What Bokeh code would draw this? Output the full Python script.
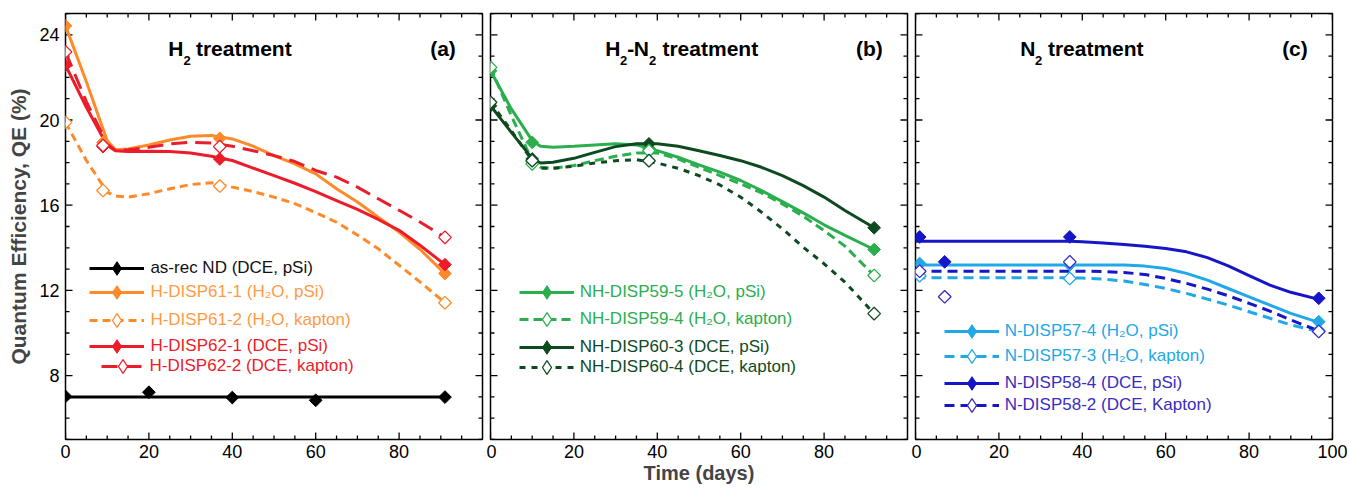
import math
from bokeh.plotting import figure
from bokeh.models import Range1d, LinearAxis, FixedTicker, Legend, LegendItem, Label
from bokeh.layouts import row
from bokeh.embed import file_html
from bokeh.resources import INLINE

FONT = "Liberation Sans"

# ---------------- data ----------------
# Panel (a) H2 treatment -- measured points
a_asrec_x = [0, 20, 40, 60, 91]
a_asrec_y = [7.02, 7.22, 6.97, 6.84, 6.99]
a_pts_x = [0, 9, 37, 91]
a_61_1_y = [24.42, 18.95, 19.14, 12.79]
a_61_2_y = [19.89, 16.69, 16.90, 11.42]
a_62_1_y = [22.57, 18.75, 18.17, 13.21]
a_62_2_y = [23.20, 18.80, 18.75, 14.49]
# Panel (a) fitted curves
a_asrec_fit_x = [0, 91]
a_asrec_fit_y = [7.0, 7.0]
a_fit_x = [0, 5, 10, 12, 15, 20, 25, 30, 35, 40, 45, 50, 55, 60, 65, 70, 75, 80, 85, 91]
a_61_1_fit = [24.42, 21.80, 19.03, 18.60, 18.64, 18.83, 19.06, 19.24, 19.27, 19.11,
              18.77, 18.33, 17.94, 17.47, 16.77, 16.15, 15.44, 14.74, 13.93, 12.79]
a_61_2_fit = [19.89, 18.10, 16.61, 16.43, 16.38, 16.54, 16.77, 16.97, 17.05, 16.85,
              16.64, 16.38, 16.07, 15.65, 15.20, 14.60, 13.95, 13.18, 12.40, 11.42]
a_62_1_fit = [22.57, 20.60, 18.80, 18.56, 18.52, 18.53, 18.52, 18.45, 18.30, 18.10,
              17.74, 17.39, 17.03, 16.64, 16.22, 15.80, 15.33, 14.82, 14.12, 13.21]
a_62_2_fit = [23.20, 20.86, 18.88, 18.56, 18.60, 18.72, 18.88, 18.95, 18.92, 18.77,
              18.56, 18.33, 18.05, 17.63, 17.32, 16.85, 16.30, 15.76, 15.21, 14.49]

# Panel (b) H2-N2 treatment
b_pts_x = [0, 10, 38, 92]
b_59_5_y = [22.31, 18.95, 18.67, 13.92]
b_59_4_y = [22.47, 17.94, 18.56, 12.70]
b_60_3_y = [20.67, 18.17, 18.88, 14.94]
b_60_4_y = [20.83, 18.09, 18.09, 10.91]
b_fit_x = [0, 5, 10, 12, 15, 20, 25, 30, 35, 40, 45, 50, 55, 60, 65, 70, 75, 80, 85, 92]
b_59_5_fit = [22.31, 20.52, 19.03, 18.77, 18.72, 18.77, 18.83, 18.88, 18.83, 18.56,
              18.25, 17.89, 17.55, 17.16, 16.69, 16.17, 15.64, 15.08, 14.58, 13.92]
b_59_4_fit = [22.47, 20.20, 18.09, 17.78, 17.73, 17.86, 18.09, 18.30, 18.45, 18.45,
              18.17, 17.78, 17.39, 17.00, 16.58, 16.06, 15.48, 14.81, 14.08, 12.70]
b_60_3_fit = [20.67, 19.42, 18.20, 17.98, 18.02, 18.20, 18.48, 18.75, 18.88, 18.88,
              18.77, 18.56, 18.33, 18.09, 17.78, 17.39, 16.92, 16.38, 15.75, 14.94]
b_60_4_fit = [20.83, 19.50, 18.09, 17.73, 17.73, 17.83, 17.98, 18.09, 18.14, 17.98,
              17.73, 17.39, 16.95, 16.38, 15.67, 14.89, 14.03, 13.25, 12.39, 10.91]

# Panel (c) N2 treatment
c_57_x = [1, 37, 96.7]
c_57_4_y = [13.26, 13.20, 10.53]
c_57_3_y = [12.69, 12.56, 10.10]
c_58_x = [1, 7, 37, 96.7]
c_58_4_y = [14.51, 13.34, 14.51, 11.63]
c_58_2_y = [12.90, 11.70, 13.34, 10.07]
c_fit_x = [0, 37, 40, 45, 50, 55, 60, 65, 70, 75, 80, 85, 90, 96.7]
c_58_4_fit = [14.31, 14.31, 14.28, 14.23, 14.15, 14.07, 13.97, 13.81, 13.54, 13.15, 12.69, 12.25, 11.91, 11.58]
c_57_4_fit = [13.19, 13.19, 13.19, 13.19, 13.19, 13.14, 13.03, 12.80, 12.48, 12.09, 11.70, 11.31, 10.92, 10.50]
c_57_3_fit = [12.59, 12.59, 12.58, 12.53, 12.44, 12.28, 12.09, 11.86, 11.59, 11.31, 11.00, 10.69, 10.38, 10.07]
c_58_2_fit = [12.90, 12.90, 12.90, 12.89, 12.84, 12.75, 12.56, 12.33, 12.06, 11.75, 11.39, 11.03, 10.61, 10.10]

# axes ticks
X_LO, X_HI = 0, 100
Y_LO, Y_HI = 5, 25
x_major_ab = [0, 20, 40, 60, 80]
x_major_c = [0, 20, 40, 60, 80, 100]
x_minor = [5, 10, 15, 25, 30, 35, 45, 50, 55, 65, 70, 75, 85, 90, 95]
y_major = [8, 12, 16, 20, 24]
y_minor = [5, 6, 7, 9, 10, 11, 13, 14, 15, 17, 18, 19, 21, 22, 23, 25]

# colours
BLACK = "#000000"
ORANGE = "#FF8A2A"
ORANGE_T = "#FF9A45"
RED = "#EC1C2A"
GREEN = "#2BAE4E"
DKGREEN = "#0E4A1F"
LTBLUE = "#22A8E6"
BLUE = "#1616C8"
PURPLE = "#3A2CC0"

# ---------------- layout ----------------
FW, FH = 417, 426
SX, SY = FW / 422.0, FH / 427.0
MAJ_LEN, MIN_LEN = 7, 4


def style_axis(ax):
    ax.axis_line_color = None
    ax.major_tick_in = 0
    ax.major_tick_out = 0
    ax.minor_tick_in = 0
    ax.minor_tick_out = 0
    ax.major_tick_line_color = None
    ax.minor_tick_line_color = None
    ax.major_label_text_font = FONT
    ax.major_label_text_font_size = "18px"
    ax.major_label_text_color = "black"
    ax.major_label_standoff = 5


def draw_ticks(p, xmajor):
    # inward ticks on all four sides, at the tick values (short dash markers)
    for ticks, ln in ((xmajor, MAJ_LEN), (x_minor, MIN_LEN)):
        d = ln / FH * (Y_HI - Y_LO) / 2.0
        for yv in (Y_LO + d, Y_HI - d):
            p.scatter(x=ticks, y=[yv] * len(ticks), marker="dash", angle=math.pi / 2,
                      size=ln, line_color="black", line_width=1.3)
    for ticks, ln in ((y_major, MAJ_LEN), (y_minor, MIN_LEN)):
        d = ln / FW * (X_HI - X_LO) / 2.0
        for xv in (X_LO + d, X_HI - d):
            p.scatter(x=[xv] * len(ticks), y=ticks, marker="dash", angle=0,
                      size=ln, line_color="black", line_width=1.3)


def make_fig(left, right, xmajor, ylabels, xtitle=None):
    p = figure(frame_width=FW, frame_height=FH,
               x_range=Range1d(X_LO, X_HI), y_range=Range1d(Y_LO, Y_HI),
               output_backend="svg", toolbar_location=None,
               x_axis_location=None, y_axis_location=None,
               min_border_left=left, min_border_right=right,
               min_border_top=13, min_border_bottom=10)
    p.outline_line_color = "black"
    p.outline_line_width = 1.5
    p.background_fill_color = "white"
    p.border_fill_color = "white"
    for g in p.xgrid + p.ygrid:
        g.visible = False
    bottom = LinearAxis(ticker=FixedTicker(ticks=xmajor, minor_ticks=x_minor))
    style_axis(bottom)
    if xtitle:
        bottom.axis_label = xtitle
        bottom.axis_label_text_font = FONT
        bottom.axis_label_text_font_size = "20px"
        bottom.axis_label_text_font_style = "bold"
        bottom.axis_label_standoff = 1
    p.add_layout(bottom, "below")
    if ylabels:
        leftax = LinearAxis(ticker=FixedTicker(ticks=y_major, minor_ticks=y_minor))
        style_axis(leftax)
        leftax.major_label_standoff = 6
        leftax.axis_label = "Quantum Efficiency, QE (%)"
        leftax.axis_label_text_font = FONT
        leftax.axis_label_text_font_size = "21px"
        leftax.axis_label_text_font_style = "bold"
        leftax.axis_label_standoff = 6
        p.add_layout(leftax, "left")
    draw_ticks(p, xmajor)
    return p


def pts(p, x, y, color, filled, edge=None):
    return p.scatter(x, y, marker="square", angle=math.pi / 4, size=9,
                     fill_color=color if filled else "white",
                     line_color=edge or color, line_width=1.0 if filled else 1.3)


def key(p, x, y, color, filled, edge=None):
    # hidden copy of the points, used only to draw a diamond in the legend key
    return p.scatter(x, y, marker="diamond", size=12, visible=False,
                     fill_color=color if filled else "white",
                     line_color=edge or color, line_width=1.0 if filled else 1.3)


def add_leg(p, rends, label, tcolor, x_ref, yc_ref, gw=55, standoff=6):
    h = 34
    leg = Legend(items=[LegendItem(label=label, renderers=list(rends))],
                 location=(x_ref * SX, FH - yc_ref * SY - h / 2.0),
                 orientation="vertical")
    leg.padding = 0
    leg.margin = 0
    leg.spacing = 0
    leg.border_line_color = None
    leg.background_fill_alpha = 0
    leg.inactive_fill_alpha = 0
    leg.glyph_width = gw
    leg.glyph_height = h
    leg.label_height = h
    leg.label_standoff = standoff
    leg.label_text_font = FONT
    leg.label_text_font_size = "17px"
    leg.label_text_color = tcolor
    p.add_layout(leg)


def add_text(p, text, x_ref, yb_ref, size="21px", align="left"):
    x = x_ref * SX if align == "left" else FW - x_ref * SX
    p.add_layout(Label(x=x, y=FH - yb_ref * SY, x_units="screen", y_units="screen",
                       text=text, text_font=FONT, text_font_size=size,
                       text_font_style="bold", text_color="black",
                       text_baseline="alphabetic", text_align=align))


# ---------------- panel (a) ----------------
pa = make_fig(65, 4, x_major_ab, True)
r_asrec = pa.line(a_asrec_fit_x, a_asrec_fit_y, line_color=BLACK, line_width=3)
r_611 = pa.line(a_fit_x, a_61_1_fit, line_color=ORANGE, line_width=3)
r_612 = pa.line(a_fit_x, a_61_2_fit, line_color=ORANGE, line_width=3, line_dash="8 5")
r_621 = pa.line(a_fit_x, a_62_1_fit, line_color=RED, line_width=3)
r_622 = pa.line(a_fit_x, a_62_2_fit, line_color=RED, line_width=3, line_dash="16 8")
pts(pa, a_asrec_x, a_asrec_y, BLACK, True)
pts(pa, a_pts_x, a_61_2_y, ORANGE, False)
pts(pa, a_pts_x, a_61_1_y, ORANGE, True)
pts(pa, a_pts_x, a_62_1_y, RED, True)
pts(pa, a_pts_x, a_62_2_y, RED, False)

add_leg(pa, [r_asrec, key(pa, a_asrec_x, a_asrec_y, BLACK, True)],
        "as-rec ND (DCE, pSi)", "#111111", 24.7, 255.3)
add_leg(pa, [r_611, key(pa, a_pts_x, a_61_1_y, ORANGE, True)],
        "H-DISP61-1 (H\u2082O, pSi)", ORANGE_T, 24.7, 279.3)
add_leg(pa, [r_612, key(pa, a_pts_x, a_61_2_y, ORANGE, False)],
        "H-DISP61-2 (H\u2082O, kapton)", ORANGE_T, 24.7, 307.7)
add_leg(pa, [r_621, key(pa, a_pts_x, a_62_1_y, RED, True)],
        "H-DISP62-1 (DCE, pSi)", RED, 24.7, 333.3)
add_leg(pa, [r_622, key(pa, a_pts_x, a_62_2_y, RED, False)],
        "H-DISP62-2 (DCE, kapton)", RED, 36.0, 354.3, gw=43)

add_text(pa, "H", 104, 35.3)
add_text(pa, "2", 119.5, 46.7, size="13px")
add_text(pa, "treatment", 132, 35.3)
add_text(pa, "(a)", 27, 35.3, align="right")

# ---------------- panel (b) ----------------
pb = make_fig(4, 4, x_major_ab, False, xtitle="Time (days)")
r_595 = pb.line(b_fit_x, b_59_5_fit, line_color=GREEN, line_width=3)
r_594 = pb.line(b_fit_x, b_59_4_fit, line_color=GREEN, line_width=3, line_dash="9 5")
r_603 = pb.line(b_fit_x, b_60_3_fit, line_color=DKGREEN, line_width=3)
r_604 = pb.line(b_fit_x, b_60_4_fit, line_color=DKGREEN, line_width=3, line_dash="6 6")
pts(pb, b_pts_x, b_59_5_y, GREEN, True)
pts(pb, b_pts_x, b_60_3_y, DKGREEN, True)
pts(pb, b_pts_x, b_59_4_y, GREEN, False)
pts(pb, b_pts_x, b_60_4_y, DKGREEN, False)

add_leg(pb, [r_595, key(pb, b_pts_x, b_59_5_y, GREEN, True)],
        "NH-DISP59-5 (H\u2082O, pSi)", GREEN, 29, 279.3)
add_leg(pb, [r_594, key(pb, b_pts_x, b_59_4_y, GREEN, False)],
        "NH-DISP59-4 (H\u2082O, kapton)", GREEN, 29, 306.7)
add_leg(pb, [r_603, key(pb, b_pts_x, b_60_3_y, DKGREEN, True)],
        "NH-DISP60-3 (DCE, pSi)", DKGREEN, 29, 334.3)
add_leg(pb, [r_604, key(pb, b_pts_x, b_60_4_y, DKGREEN, False)],
        "NH-DISP60-4 (DCE, kapton)", DKGREEN, 29, 355.3)

add_text(pb, "H", 116, 35.3)
add_text(pb, "2", 131, 46.7, size="13px")
add_text(pb, "-", 138.5, 35.3)
add_text(pb, "N", 145, 35.3)
add_text(pb, "2", 160.5, 46.7, size="13px")
add_text(pb, "treatment", 174, 35.3)
add_text(pb, "(b)", 25, 35.3, align="right")

# ---------------- panel (c) ----------------
pc = make_fig(4, 15, x_major_c, False)
r_574 = pc.line(c_fit_x, c_57_4_fit, line_color=LTBLUE, line_width=3)
r_573 = pc.line(c_fit_x, c_57_3_fit, line_color=LTBLUE, line_width=3, line_dash="10 6")
r_584 = pc.line(c_fit_x, c_58_4_fit, line_color=BLUE, line_width=3)
r_582 = pc.line(c_fit_x, c_58_2_fit, line_color=BLUE, line_width=3, line_dash="10 6")
pts(pc, c_57_x, c_57_4_y, LTBLUE, True)
pts(pc, c_58_x, c_58_4_y, BLUE, True)
pts(pc, c_57_x, c_57_3_y, LTBLUE, False)
pts(pc, c_58_x, c_58_2_y, BLUE, False, edge=PURPLE)

add_leg(pc, [r_574, key(pc, c_57_x, c_57_4_y, LTBLUE, True)],
        "N-DISP57-4 (H\u2082O, pSi)", LTBLUE, 29, 318.7)
add_leg(pc, [r_573, key(pc, c_57_x, c_57_3_y, LTBLUE, False)],
        "N-DISP57-3 (H\u2082O, kapton)", LTBLUE, 29, 344.3)
add_leg(pc, [r_584, key(pc, c_58_x, c_58_4_y, BLUE, True)],
        "N-DISP58-4 (DCE, pSi)", PURPLE, 29, 371.0)
add_leg(pc, [r_582, key(pc, c_58_x, c_58_2_y, BLUE, False, edge=PURPLE)],
        "N-DISP58-2 (DCE, Kapton)", PURPLE, 29, 392.7)

add_text(pc, "N", 106, 35.3)
add_text(pc, "2", 121, 46.7, size="13px")
add_text(pc, "treatment", 134, 35.3)
add_text(pc, "(c)", 25, 35.3, align="right")

layout = row(pa, pb, pc, spacing=0)
open("out.html", "w").write(file_html(layout, INLINE))
